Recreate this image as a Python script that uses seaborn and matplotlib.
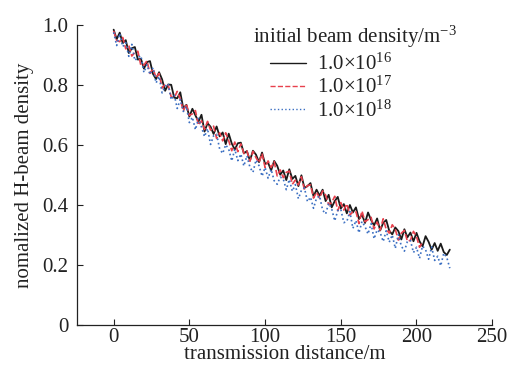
import matplotlib
matplotlib.use("Agg")
import matplotlib.pyplot as plt
import numpy as np
import pandas as pd
import seaborn as sns

# ── data ─────────────────────────────────────────────────────────────────────
distance = np.arange(0, 224, 2)  # transmission distance sample grid (m)

density_1e16 = [
    0.985, 0.953, 0.975, 0.940, 0.950, 0.907, 0.923, 0.927, 0.885, 0.888,
    0.855, 0.877, 0.880, 0.837, 0.820, 0.843, 0.819, 0.781, 0.802, 0.801,
    0.758, 0.756, 0.776, 0.722, 0.734, 0.695, 0.721, 0.699, 0.678, 0.701,
    0.645, 0.673, 0.661, 0.637, 0.662, 0.629, 0.642, 0.603, 0.638, 0.605,
    0.585, 0.606, 0.608, 0.572, 0.580, 0.548, 0.581, 0.568, 0.543, 0.575,
    0.537, 0.541, 0.515, 0.547, 0.531, 0.501, 0.515, 0.483, 0.519, 0.487,
    0.497, 0.463, 0.499, 0.457, 0.463, 0.473, 0.429, 0.451, 0.431, 0.451,
    0.413, 0.434, 0.392, 0.413, 0.427, 0.388, 0.403, 0.372, 0.400, 0.375,
    0.392, 0.353, 0.368, 0.340, 0.375, 0.350, 0.332, 0.355, 0.315, 0.340,
    0.350, 0.314, 0.302, 0.325, 0.313, 0.285, 0.319, 0.292, 0.308, 0.279,
    0.307, 0.279, 0.262, 0.296, 0.277, 0.251, 0.273, 0.247, 0.271, 0.243,
    0.233, 0.251,
]
density_1e17 = [
    0.981, 0.949, 0.945, 0.959, 0.921, 0.933, 0.897, 0.909, 0.913, 0.865,
    0.867, 0.881, 0.839, 0.855, 0.825, 0.839, 0.790, 0.803, 0.800, 0.761,
    0.758, 0.779, 0.754, 0.713, 0.738, 0.699, 0.704, 0.715, 0.666, 0.681,
    0.652, 0.679, 0.650, 0.663, 0.622, 0.641, 0.614, 0.641, 0.614, 0.581,
    0.610, 0.578, 0.604, 0.572, 0.580, 0.546, 0.579, 0.558, 0.541, 0.572,
    0.525, 0.547, 0.525, 0.545, 0.497, 0.517, 0.491, 0.509, 0.513, 0.469,
    0.483, 0.467, 0.494, 0.451, 0.465, 0.467, 0.423, 0.443, 0.423, 0.447,
    0.433, 0.401, 0.408, 0.429, 0.381, 0.408, 0.383, 0.404, 0.366, 0.378,
    0.378, 0.338, 0.380, 0.344, 0.351, 0.359, 0.320, 0.343, 0.316, 0.354,
    0.319, 0.306, 0.334, 0.319, 0.283, 0.306, 0.315, 0.279, 0.282, 0.312,
    0.295, 0.259, 0.277,
]
density_1e18 = [
    0.976, 0.932, 0.972, 0.928, 0.942, 0.896, 0.936, 0.882, 0.892, 0.898,
    0.842, 0.868, 0.835, 0.858, 0.807, 0.829, 0.774, 0.796, 0.805, 0.751,
    0.768, 0.722, 0.752, 0.712, 0.729, 0.675, 0.693, 0.651, 0.689, 0.660,
    0.628, 0.655, 0.602, 0.631, 0.636, 0.587, 0.572, 0.601, 0.586, 0.547,
    0.586, 0.548, 0.570, 0.530, 0.564, 0.526, 0.509, 0.550, 0.531, 0.496,
    0.525, 0.489, 0.519, 0.481, 0.469, 0.493, 0.487, 0.451, 0.485, 0.446,
    0.468, 0.421, 0.449, 0.457, 0.411, 0.426, 0.389, 0.423, 0.430, 0.383,
    0.370, 0.406, 0.387, 0.347, 0.381, 0.386, 0.341, 0.345, 0.378, 0.322,
    0.348, 0.307, 0.345, 0.328, 0.303, 0.338, 0.287, 0.317, 0.308, 0.278,
    0.314, 0.276, 0.300, 0.255, 0.301, 0.263, 0.246, 0.278, 0.282, 0.241,
    0.259, 0.222, 0.263, 0.251, 0.219, 0.260, 0.215, 0.229, 0.197, 0.239,
    0.225, 0.189,
]

series_labels = [r"1.0×10$^{16}$", r"1.0×10$^{17}$", r"1.0×10$^{18}$"]
series_values = [density_1e16, density_1e17, density_1e18]
x_ticks = [0, 50, 100, 150, 200, 250]
y_ticks = [0, 0.2, 0.4, 0.6, 0.8, 1.0]
y_tick_labels = ["0", "0.2", "0.4", "0.6", "0.8", "1.0"]

# ── styling ─────────────────────────────────────────────────────────────────
sns.set_style("ticks")
plt.rcParams["font.family"] = ["Liberation Serif", "DejaVu Serif"]
plt.rcParams["mathtext.fontset"] = "custom"
plt.rcParams["mathtext.rm"] = "Liberation Serif"
plt.rcParams["mathtext.it"] = "Liberation Serif:italic"
_FS = 15
plt.rcParams["font.size"] = _FS

_COLORS = ["#1a1a1a", "#e8414d", "#3b6fc2"]
_STYLES = ["-", "--", ":"]
_WIDTHS = [1.3, 1.2, 1.2]
_TXT = "#222222"

fig = plt.figure(figsize=(5.09, 3.70), dpi=100)
ax = fig.add_axes([0.151, 0.122, 0.816, 0.810])

for label, vals, col, ls, lw in zip(series_labels, series_values, _COLORS, _STYLES, _WIDTHS):
    df = pd.DataFrame({"distance": distance[: len(vals)], "density": vals})
    sns.lineplot(data=df, x="distance", y="density", ax=ax, color=col,
                 linestyle=ls, linewidth=lw, label=label, estimator=None)

ax.set_xlim(-24.3, 250)
ax.set_ylim(0, 1.0)
ax.set_xticks(x_ticks)
ax.set_yticks(y_ticks)
ax.set_yticklabels(y_tick_labels)
ax.tick_params(direction="in", length=4, width=0.8, labelsize=_FS, colors=_TXT)
ax.tick_params(axis="x", pad=2)
ax.tick_params(axis="y", pad=6)
ax.set_xlabel("transmission distance/m", fontsize=_FS, labelpad=-1, color=_TXT)
ax.set_ylabel("nomalized H-beam density", fontsize=_FS, labelpad=6, color=_TXT)
sns.despine(ax=ax)
for s in ("left", "bottom"):
    ax.spines[s].set_linewidth(0.9)
    ax.spines[s].set_color(_TXT)

# legend title sits a little left of the indented entries
ax.text(0.424, 0.96, r"initial beam density/m$^{-3}$", transform=ax.transAxes,
        ha="left", va="center", fontsize=_FS, color=_TXT)
leg = ax.legend(loc="upper left", bbox_to_anchor=(0.465, 0.905), frameon=False,
                fontsize=_FS, handlelength=1.75, handletextpad=0.5,
                labelspacing=0.1, borderpad=0, borderaxespad=0)
for line in leg.get_lines():
    line.set_linewidth(1.0)
for t in leg.get_texts():
    t.set_color(_TXT)

fig.savefig("out.png", dpi=100)
plt.close(fig)
